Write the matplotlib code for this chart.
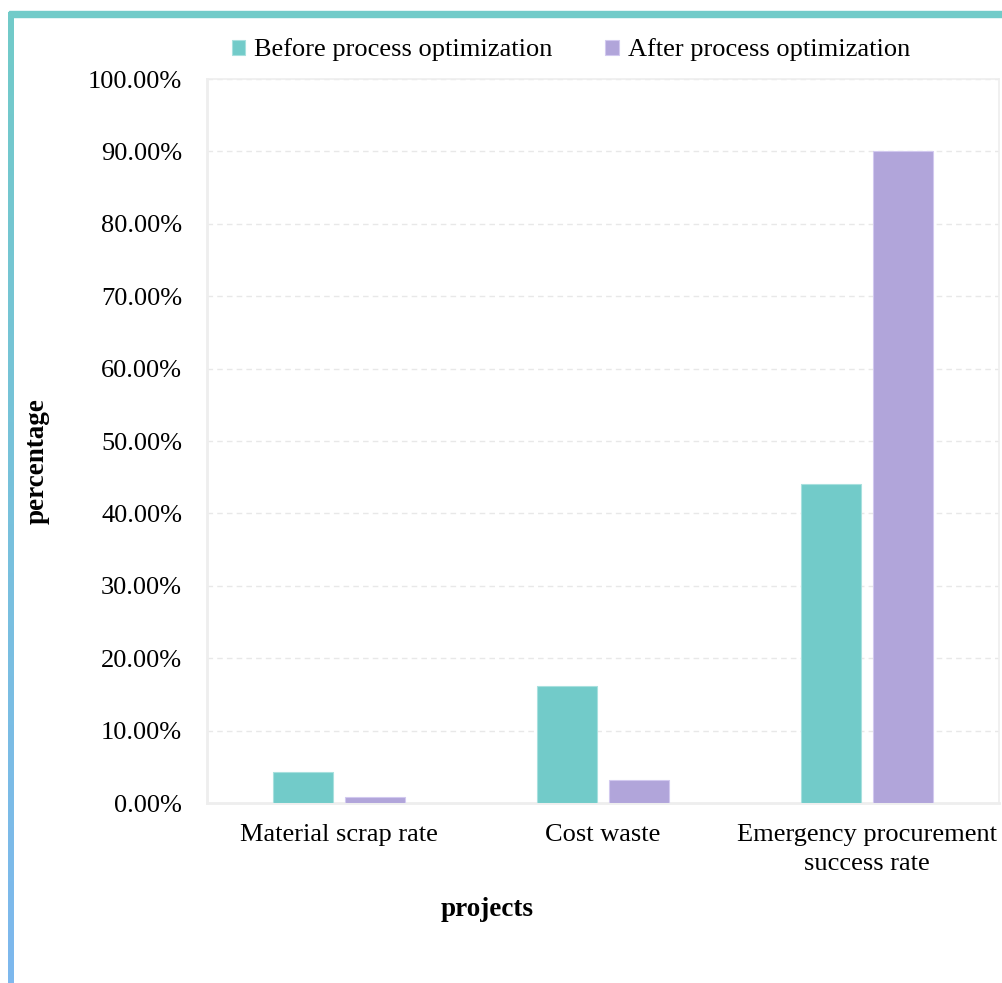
import numpy as np
import matplotlib.pyplot as plt
from matplotlib.patches import Rectangle
from matplotlib.ticker import FuncFormatter

plt.rcParams['font.family'] = ['Liberation Serif', 'DejaVu Serif']

# data
categories = ['Material scrap rate', 'Cost waste', 'Emergency procurement\nsuccess rate']
before = [4.3, 16.2, 44.0]
after = [0.8, 3.2, 90.0]
series_names = ['Before process optimization', 'After process optimization']
teal = '#72CBC9'
purple = '#B1A5DA'

fig = plt.figure(figsize=(10.03, 9.83), dpi=100)
ax = fig.add_axes([207/1003, 1 - 803/983, 792/1003, 724/983])

x = np.arange(len(categories))
w = 0.227
off = 0.136
ax.bar(x - off, before, w, color=teal, edgecolor='#a8e0de', linewidth=0.8, label=series_names[0], zorder=3)
ax.bar(x + off, after, w, color=purple, edgecolor='#d2c9ef', linewidth=0.8, label=series_names[1], zorder=3)

ax.set_xlim(-0.5, 2.5)
ax.set_ylim(0, 100)
ax.set_yticks(np.arange(0, 101, 10))
ax.yaxis.set_major_formatter(FuncFormatter(lambda v, p: f'{v:.2f}%'))
ax.set_xticks(x)
ax.set_xticklabels(categories, linespacing=1.4)
ax.tick_params(axis='both', length=0, labelsize=19)
ax.tick_params(axis='y', pad=18)
ax.tick_params(axis='x', pad=15)
ax.grid(axis='y', color='#e8e8e8', linestyle=(0, (4, 3)), linewidth=1, zorder=0)
for s in ax.spines.values():
    s.set_color('#eeeeee')
    s.set_linewidth(1.2)
ax.spines['bottom'].set_linewidth(2)
ax.spines['left'].set_linewidth(2)

fig.text(37/1003, 1 - 461/983, 'percentage', rotation=90, ha='center', va='center',
         fontsize=19.5, fontweight='bold')
fig.text(487/1003, 1 - 910/983, 'projects', ha='center', va='center',
         fontsize=19.5, fontweight='bold')

fig.legend(loc='center', bbox_to_anchor=(571/1003, 1 - 50/983), ncol=2, frameon=False,
           fontsize=19, handlelength=0.5, handleheight=0.5, handletextpad=0.35,
           columnspacing=2.0)

# decorative border: top bar and gradient left bar
fig.patches.append(Rectangle((9/1003, 1 - 17/983), 994/1003, 6/983, transform=fig.transFigure,
                             color=teal, zorder=0))
gax = fig.add_axes([8/1003, 0, 6/1003, 1 - 12/983])
grad = np.linspace(0, 1, 256).reshape(-1, 1)
c0 = np.array([0x72, 0xCB, 0xC9]) / 255
c1 = np.array([0x7E, 0xB8, 0xEE]) / 255
img = c0[None, None, :] * (1 - grad[:, :, None]) + c1[None, None, :] * grad[:, :, None]
gax.imshow(img, aspect='auto', extent=(0, 1, 0, 1))
gax.axis('off')

fig.savefig('out.png', dpi=100)
